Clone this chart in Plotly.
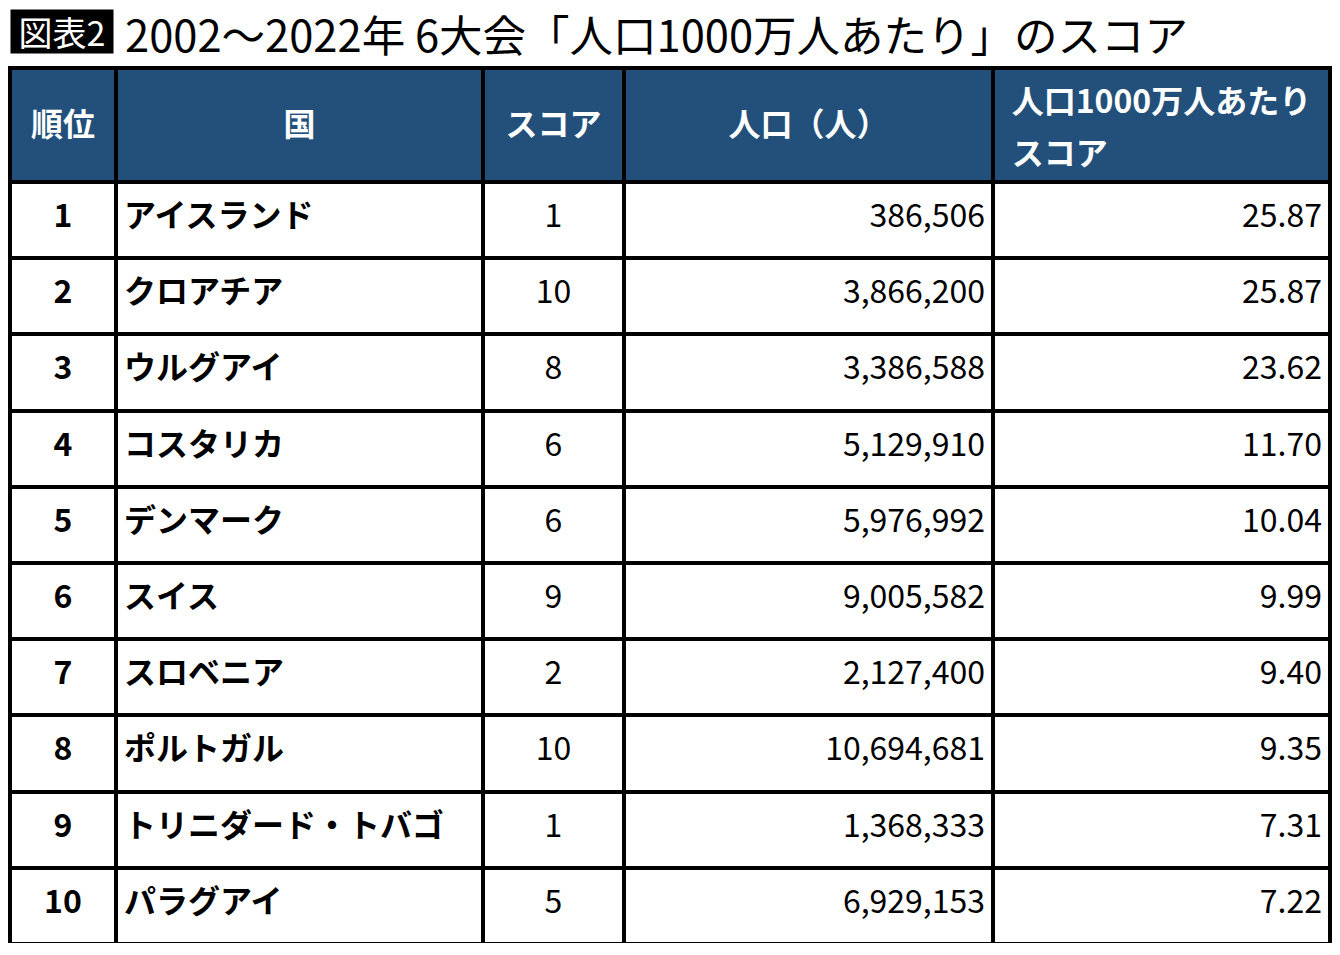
import plotly.graph_objects as go

# table data
ranks = [1, 2, 3, 4, 5, 6, 7, 8, 9, 10]
countries = ["アイスランド", "クロアチア", "ウルグアイ", "コスタリカ", "デンマーク",
             "スイス", "スロベニア", "ポルトガル", "トリニダード・トバゴ", "パラグアイ"]
scores = [1, 10, 8, 6, 6, 9, 2, 10, 1, 5]
population = [386506, 3866200, 3386588, 5129910, 5976992,
              9005582, 2127400, 10694681, 1368333, 6929153]
per_10m = [25.87, 25.87, 23.62, 11.70, 10.04, 9.99, 9.40, 9.35, 7.31, 7.22]

headers = ["順位", "国", "スコア", "人口（人）", "人口1000万人あたり", "スコア"]

HEADER_BG = "#22507a"
FONT = "Noto Sans CJK JP"


def hbig(s):
    return f'<span style="font-size:32px;font-weight:bold">{s}</span>'


# header: small base font so that a blank first line gives a small push down
pad = '<span style="font-size:29px">&nbsp;</span><br>'
head_vals = [
    pad + hbig(headers[0]),
    pad + hbig(headers[1]),
    pad + hbig(headers[2]),
    pad + hbig(headers[3]),
    hbig(headers[4]) + "<br><br>" + hbig(headers[5]),
]

fig = go.Figure(go.Table(
    columnwidth=[106, 367, 141, 369, 337],
    header=dict(
        values=head_vals,
        fill_color=HEADER_BG,
        line=dict(color="black", width=4),
        align="center",
        font=dict(family=FONT, size=20, color="white"),
        height=112,
    ),
    cells=dict(
        values=[
            [f"<b>{r}</b>" for r in ranks],
            [f"<b>{c}</b>" for c in countries],
            [f"<span>{s}</span>" for s in scores],
            [f"<span>{p:,}</span>" for p in population],
            [f"<span>{v:.2f}</span>" for v in per_10m],
        ],
        fill_color="white",
        line=dict(color="black", width=4),
        align=["center", "left", "center", "right", "right"],
        font=dict(family=FONT, size=32, color="black"),
        height=76.2,
    ),
    domain=dict(x=[0, 1], y=[0, 1]),
))

fig.update_layout(
    width=1324, height=939,
    margin=dict(l=2, r=2, t=60, b=4),
    paper_bgcolor="white",
    font=dict(family=FONT),
    annotations=[
        dict(text="&nbsp;図表2&nbsp;", xref="paper", yref="paper", x=0, y=1, yshift=37,
             xanchor="left", yanchor="middle", showarrow=False, height=43,
             font=dict(size=34, color="white"), bgcolor="black", borderpad=0),
        dict(text="2002～2022年 6大会「人口1000万人あたり」のスコア", xref="paper", yref="paper",
             x=0, xshift=113, y=1, yshift=35, xanchor="left", yanchor="middle",
             showarrow=False, height=46, font=dict(size=43.5, color="black")),
    ],
)

fig.write_html("out.html")
